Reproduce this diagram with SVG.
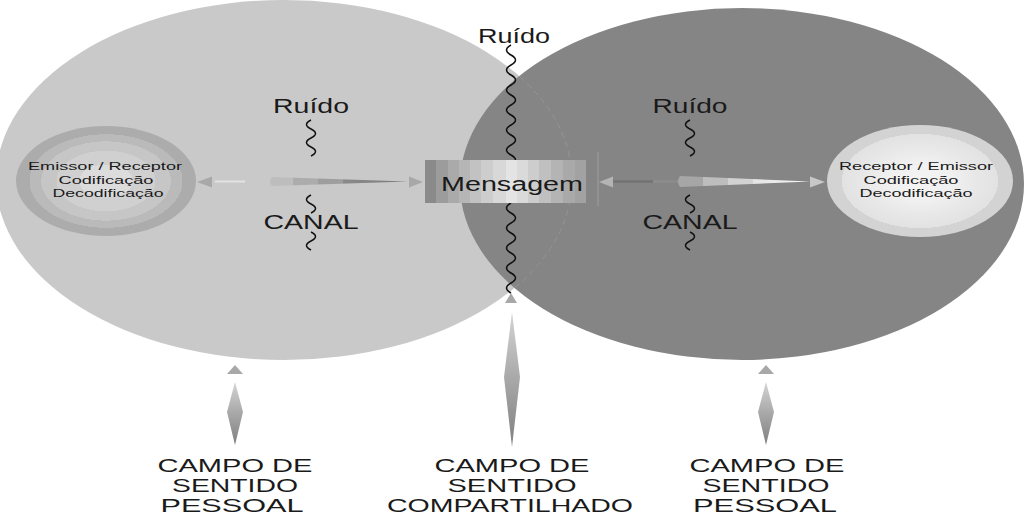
<svg xmlns="http://www.w3.org/2000/svg" width="1024" height="515" viewBox="0 0 1024 515">
<defs>
<style>
.t{font-family:"Liberation Sans",Arial,sans-serif;fill:#1a1a1a;text-anchor:middle}
.big{font-size:19.5px}
.lab{font-size:17.5px}
.small{font-size:11.6px}
.wave{fill:none;stroke:#111;stroke-width:1.5}
.head{fill:#a8a8a8}
</style>
<radialGradient id="gL" cx="0.5" cy="0.5" r="0.5">
<stop offset="0" stop-color="#dcdcdc"/><stop offset="0.3" stop-color="#dcdcdc"/>
<stop offset="0.3" stop-color="#d0d0d0"/><stop offset="0.55" stop-color="#d0d0d0"/>
<stop offset="0.55" stop-color="#c6c6c6"/><stop offset="0.72" stop-color="#c6c6c6"/>
<stop offset="0.72" stop-color="#bababa"/><stop offset="0.85" stop-color="#bababa"/>
<stop offset="0.85" stop-color="#acacac"/><stop offset="1" stop-color="#acacac"/>
</radialGradient>
<radialGradient id="gR" cx="0.5" cy="0.5" r="0.5">
<stop offset="0" stop-color="#f4f4f4"/><stop offset="0.35" stop-color="#f0f0f0"/>
<stop offset="0.6" stop-color="#e8e8e8"/><stop offset="0.84" stop-color="#e2e2e2"/>
<stop offset="0.84" stop-color="#d3d3d3"/><stop offset="1" stop-color="#d3d3d3"/>
</radialGradient>
<linearGradient id="gM" x1="0" y1="0" x2="1" y2="0">
<stop offset="0" stop-color="#8a8a8a"/><stop offset="0.07" stop-color="#8a8a8a"/>
<stop offset="0.07" stop-color="#9c9c9c"/><stop offset="0.14" stop-color="#9c9c9c"/>
<stop offset="0.14" stop-color="#aaaaaa"/><stop offset="0.21" stop-color="#aaaaaa"/>
<stop offset="0.21" stop-color="#b6b6b6"/><stop offset="0.28" stop-color="#b6b6b6"/>
<stop offset="0.28" stop-color="#c2c2c2"/><stop offset="0.35" stop-color="#c2c2c2"/>
<stop offset="0.35" stop-color="#cdcdcd"/><stop offset="0.42" stop-color="#cdcdcd"/>
<stop offset="0.42" stop-color="#d8d8d8"/><stop offset="0.5" stop-color="#d8d8d8"/>
<stop offset="0.5" stop-color="#e4e4e4"/><stop offset="0.57" stop-color="#e4e4e4"/>
<stop offset="0.57" stop-color="#dadada"/><stop offset="0.64" stop-color="#dadada"/>
<stop offset="0.64" stop-color="#cdcdcd"/><stop offset="0.71" stop-color="#cdcdcd"/>
<stop offset="0.71" stop-color="#c0c0c0"/><stop offset="0.78" stop-color="#c0c0c0"/>
<stop offset="0.78" stop-color="#b4b4b4"/><stop offset="0.86" stop-color="#b4b4b4"/>
<stop offset="0.86" stop-color="#a9a9a9"/><stop offset="0.93" stop-color="#a9a9a9"/>
<stop offset="0.93" stop-color="#a2a2a2"/><stop offset="1" stop-color="#a2a2a2"/>
</linearGradient>
<linearGradient id="gTL" x1="0" y1="0" x2="1" y2="0">
<stop offset="0" stop-color="#bdbdbd"/><stop offset="0.17" stop-color="#bdbdbd"/>
<stop offset="0.17" stop-color="#acacac"/><stop offset="0.35" stop-color="#acacac"/>
<stop offset="0.35" stop-color="#9e9e9e"/><stop offset="0.53" stop-color="#9e9e9e"/>
<stop offset="0.53" stop-color="#8a8a8a"/><stop offset="1" stop-color="#7a7a7a"/>
</linearGradient>
<linearGradient id="gTR" x1="0" y1="0" x2="1" y2="0">
<stop offset="0" stop-color="#a6a6a6"/><stop offset="0.19" stop-color="#a6a6a6"/>
<stop offset="0.19" stop-color="#bdbdbd"/><stop offset="0.38" stop-color="#bdbdbd"/>
<stop offset="0.38" stop-color="#d2d2d2"/><stop offset="0.57" stop-color="#d2d2d2"/>
<stop offset="0.57" stop-color="#e4e4e4"/><stop offset="1" stop-color="#f6f6f6"/>
</linearGradient>
<linearGradient id="gD" x1="0" y1="0" x2="0" y2="1">
<stop offset="0" stop-color="#d4d4d4"/><stop offset="0.5" stop-color="#a8a8a8"/><stop offset="1" stop-color="#808080"/>
</linearGradient>
<clipPath id="clipR"><ellipse cx="742" cy="184" rx="282" ry="176"/></clipPath>
</defs>
<rect width="1024" height="515" fill="#ffffff"/>

<g id="field-left">
<ellipse cx="284" cy="180" rx="288" ry="180" fill="#c9c9c9"/>
</g>
<g id="field-right">
<ellipse cx="742" cy="184" rx="282" ry="176" fill="#858585"/>
<ellipse cx="284" cy="180" rx="288" ry="180" fill="none" stroke="#959595" stroke-width="1" stroke-dasharray="6 4" clip-path="url(#clipR)"/>
</g>

<g id="node-emissor">
<ellipse cx="106" cy="181" rx="90" ry="55" fill="url(#gL)"/>
<text class="t small" x="105" y="170" textLength="154" lengthAdjust="spacingAndGlyphs">Emissor / Receptor</text>
<text class="t small" x="106" y="184" textLength="95" lengthAdjust="spacingAndGlyphs">Codificação</text>
<text class="t small" x="108" y="197" textLength="111" lengthAdjust="spacingAndGlyphs">Decodificação</text>
</g>

<g id="node-receptor">
<ellipse cx="920" cy="181" rx="93" ry="56" fill="url(#gR)"/>
<text class="t small" x="916" y="170" textLength="154" lengthAdjust="spacingAndGlyphs">Receptor / Emissor</text>
<text class="t small" x="911" y="184" textLength="95" lengthAdjust="spacingAndGlyphs">Codificação</text>
<text class="t small" x="916" y="197" textLength="113" lengthAdjust="spacingAndGlyphs">Decodificação</text>
</g>

<g id="noise-center">
<path class="wave" d="M511,45 q-9,5 0,10 t0,10 t0,10 t0,10 t0,10 t0,10 t0,10 t0,10 t0,10 t0,10 t0,10 t0,10"/>
<path class="wave" d="M511,203 q-9,5 0,10 t0,10 t0,10 t0,10 t0,10 t0,10 t0,10 t0,10 t0,10"/>
<text class="t" style="font-size:20px" x="514" y="43" textLength="72" lengthAdjust="spacingAndGlyphs">Ruído</text>
</g>

<g id="node-mensagem">
<rect x="425" y="160" width="161" height="43" fill="url(#gM)"/>
<line x1="598" y1="152" x2="598" y2="206" stroke="#9a9a9a" stroke-width="1.2"/>
<text class="t" style="font-size:20px" x="512" y="191" textLength="142" lengthAdjust="spacingAndGlyphs">Mensagem</text>
</g>

<g id="channel-left">
<text class="t big" x="311" y="113" textLength="76" lengthAdjust="spacingAndGlyphs">Ruído</text>
<path class="wave" d="M311,120 q-9,4.5 0,9 t0,9 t0,9 t0,9"/>
<path class="wave" d="M311,195 q-9,4.5 0,9 t0,9"/>
<text class="t big" x="311" y="229" textLength="95" lengthAdjust="spacingAndGlyphs">CANAL</text>
<path class="wave" d="M311,232 q9,4.5 0,9 t0,9"/>
</g>

<g id="channel-right">
<text class="t big" x="690" y="113" textLength="75" lengthAdjust="spacingAndGlyphs">Ruído</text>
<path class="wave" d="M690,120 q-9,4.5 0,9 t0,9 t0,9 t0,9"/>
<path class="wave" d="M690,195 q-9,4.5 0,9 t0,9"/>
<text class="t big" x="690" y="229" textLength="95" lengthAdjust="spacingAndGlyphs">CANAL</text>
<path class="wave" d="M690,232 q9,4.5 0,9 t0,9"/>
</g>

<g id="connectors">
<polygon class="head" points="197,182 212,176.5 212,187.5"/>
<line x1="215" y1="181.5" x2="245" y2="181.5" stroke="#e2e2e2" stroke-width="2"/>
<path d="M272,177 L408,181.5 L272,186 Q268,181.5 272,177 Z" fill="url(#gTL)"/>
<polygon class="head" points="423,182 409,176.5 409,187.5"/>

<polygon points="599,182 613,176.5 613,187.5" fill="#b4b4b4"/>
<line x1="613" y1="181.5" x2="653" y2="181.5" stroke="#737373" stroke-width="2.5"/>
<line x1="653" y1="181.5" x2="678" y2="181.5" stroke="#8d8d8d" stroke-width="2.5"/>
<path d="M680,176 L810,181.5 L680,187 Q676,181.5 680,176 Z" fill="url(#gTR)"/>
<polygon points="825,182 810,176.5 810,187.5" fill="#c8c8c8"/>

<polygon class="head" points="235,365 243,374 227,374"/>
<polygon points="235,382 243,412 235,445 227,412" fill="url(#gD)"/>
<polygon class="head" points="511,293 517,303 505,303"/>
<polygon points="512,312 520,377 512,447 504,377" fill="url(#gD)"/>
<polygon class="head" points="766,365 774,374 758,374"/>
<polygon points="766,382 774,412 766,445 758,412" fill="url(#gD)"/>
</g>

<g id="label-left">
<text class="t lab" x="235" y="472" textLength="155" lengthAdjust="spacingAndGlyphs">CAMPO DE</text>
<text class="t lab" x="235" y="492" textLength="126" lengthAdjust="spacingAndGlyphs">SENTIDO</text>
<text class="t lab" x="232" y="512" textLength="143" lengthAdjust="spacingAndGlyphs">PESSOAL</text>
</g>
<g id="label-center">
<text class="t lab" x="512" y="472" textLength="155" lengthAdjust="spacingAndGlyphs">CAMPO DE</text>
<text class="t lab" x="512" y="492" textLength="129" lengthAdjust="spacingAndGlyphs">SENTIDO</text>
<text class="t lab" x="510" y="512" textLength="246" lengthAdjust="spacingAndGlyphs">COMPARTILHADO</text>
</g>
<g id="label-right">
<text class="t lab" x="767" y="472" textLength="155" lengthAdjust="spacingAndGlyphs">CAMPO DE</text>
<text class="t lab" x="766" y="492" textLength="127" lengthAdjust="spacingAndGlyphs">SENTIDO</text>
<text class="t lab" x="765" y="512" textLength="144" lengthAdjust="spacingAndGlyphs">PESSOAL</text>
</g>
</svg>
